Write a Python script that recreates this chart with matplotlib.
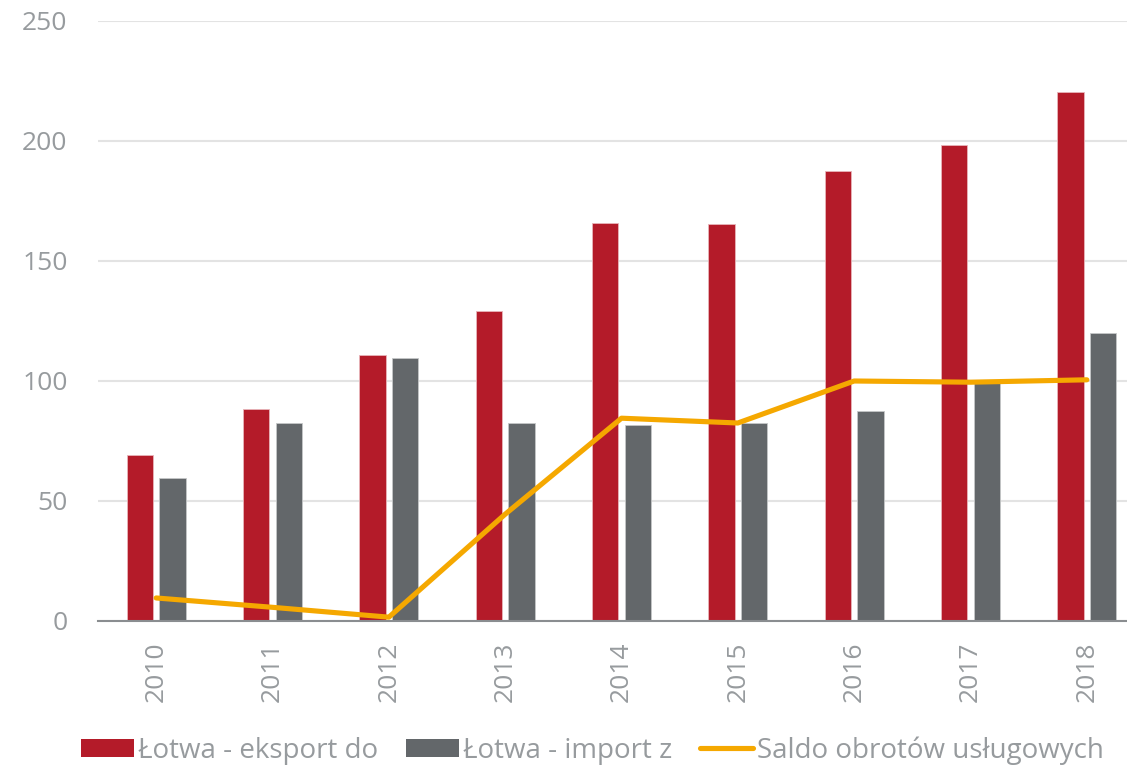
import numpy as np
import matplotlib
matplotlib.use('Agg')
import matplotlib.pyplot as plt
from matplotlib.patches import Patch
from matplotlib.lines import Line2D

plt.rcParams['font.family'] = ['Open Sans', 'DejaVu Sans']

years = ['2010', '2011', '2012', '2013', '2014', '2015', '2016', '2017', '2018']
eksport = [69, 88.5, 111, 129, 166, 165.5, 187.5, 198.5, 220.5]
import_z = [59.5, 82.5, 109.5, 82.5, 81.5, 82.5, 87.5, 99, 120]
saldo = [9.6, 5.7, 1.6, 44.5, 84.5, 82.5, 100, 99.5, 100.5]

red = '#b41b29'
gray = '#63676a'
orange = '#f5a800'
txt = '#979b9e'

fig = plt.figure(figsize=(11.27, 7.65), dpi=100)
# right edge of the plot is cut off in the reference
ax = fig.add_axes([98 / 1127, (765 - 621) / 765, 1047 / 1127, 600 / 765])

x = np.arange(len(years))
w = 0.225
off = 0.141
ax.bar(x - off, eksport, w, color=red, edgecolor='#e8b5ba', linewidth=0.6, zorder=2)
ax.bar(x + off, import_z, w, color=gray, edgecolor='#c5c7c8', linewidth=0.6, zorder=2)
ax.plot(x, saldo, color=orange, lw=3.7, solid_capstyle='round', solid_joinstyle='round', zorder=3)

ax.set_xlim(-0.5, len(years) - 0.5)
ax.set_ylim(0, 250)
ax.set_yticks(np.arange(0, 251, 50))
ax.grid(axis='y', color='#e3e3e3', lw=1.5, zorder=0)
ax.set_axisbelow(True)
for s in ['top', 'right', 'left']:
    ax.spines[s].set_visible(False)
ax.spines['bottom'].set_color('#8a8d90')
ax.spines['bottom'].set_linewidth(1.5)

ax.set_xticks(x)
ax.set_xticklabels(years, rotation=90)
ax.tick_params(axis='x', length=0, pad=15, labelsize=19, labelcolor=txt)
ax.tick_params(axis='y', length=0, pad=22, labelsize=19, labelcolor=txt)

handles = [Patch(facecolor=red, edgecolor='none'),
           Patch(facecolor=gray, edgecolor='none'),
           Line2D([0], [0], color=orange, lw=3.7, solid_capstyle='round')]
labels = ['Łotwa - eksport do', 'Łotwa - import z', 'Saldo obrotów usługowych']
leg = fig.legend(handles, labels, loc='lower center', bbox_to_anchor=(0.526, -0.014),
                 ncol=3, frameon=False, fontsize=20, handlelength=1.9, handleheight=0.65,
                 handletextpad=0.15, columnspacing=1.0, borderaxespad=0)
for t in leg.get_texts():
    t.set_color(txt)

fig.savefig('out.png', dpi=100)
